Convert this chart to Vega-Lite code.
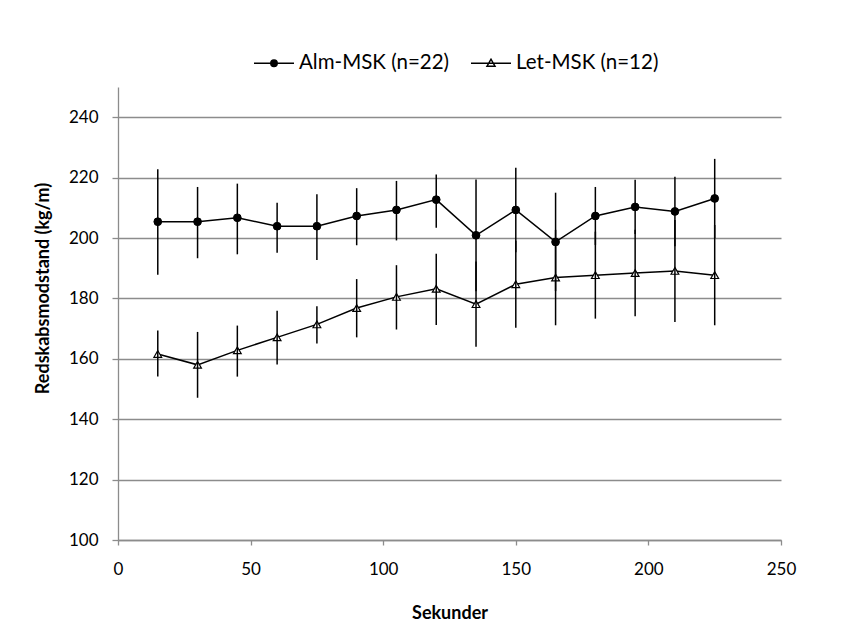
{
  "$schema": "https://vega.github.io/schema/vega-lite/v6.json",
  "width": 663,
  "height": 453,
  "autosize": {"type": "none"},
  "padding": {"left": 118, "top": 87, "right": 65, "bottom": 83},
  "background": "white",
  "config": {
    "font": "Lato",
    "view": {"stroke": null},
    "axis": {
      "domainColor": "#8c8c8c",
      "domainWidth": 1.3,
      "tickColor": "#8c8c8c",
      "tickWidth": 1.3,
      "gridColor": "#8c8c8c",
      "gridWidth": 1.3,
      "labelColor": "#000000",
      "labelFontSize": 17,
      "titleColor": "#000000",
      "titleFontSize": 18,
      "titleFontWeight": "bold"
    }
  },
  "data": {
    "values": [
      {"t": 15, "series": "Alm-MSK (n=22)", "mean": 205.4, "lo": 187.8, "hi": 222.8},
      {"t": 30, "series": "Alm-MSK (n=22)", "mean": 205.4, "lo": 193.3, "hi": 216.9},
      {"t": 45, "series": "Alm-MSK (n=22)", "mean": 206.7, "lo": 194.6, "hi": 218.0},
      {"t": 60, "series": "Alm-MSK (n=22)", "mean": 203.9, "lo": 195.1, "hi": 211.7},
      {"t": 75, "series": "Alm-MSK (n=22)", "mean": 203.9, "lo": 192.7, "hi": 214.5},
      {"t": 90, "series": "Alm-MSK (n=22)", "mean": 207.3, "lo": 197.6, "hi": 216.5},
      {"t": 105, "series": "Alm-MSK (n=22)", "mean": 209.3, "lo": 199.2, "hi": 218.9},
      {"t": 120, "series": "Alm-MSK (n=22)", "mean": 212.7, "lo": 203.4, "hi": 221.0},
      {"t": 135, "series": "Alm-MSK (n=22)", "mean": 200.9, "lo": 182.4, "hi": 219.4},
      {"t": 150, "series": "Alm-MSK (n=22)", "mean": 209.3, "lo": 195.3, "hi": 223.3},
      {"t": 165, "series": "Alm-MSK (n=22)", "mean": 198.7, "lo": 182.4, "hi": 215.0},
      {"t": 180, "series": "Alm-MSK (n=22)", "mean": 207.3, "lo": 197.7, "hi": 216.9},
      {"t": 195, "series": "Alm-MSK (n=22)", "mean": 210.3, "lo": 201.3, "hi": 219.3},
      {"t": 210, "series": "Alm-MSK (n=22)", "mean": 208.8, "lo": 197.3, "hi": 220.3},
      {"t": 225, "series": "Alm-MSK (n=22)", "mean": 213.1, "lo": 200.0, "hi": 226.2},
      {"t": 15, "series": "Let-MSK (n=12)", "mean": 161.6, "lo": 154.1, "hi": 169.4},
      {"t": 30, "series": "Let-MSK (n=12)", "mean": 158.0, "lo": 147.1, "hi": 168.9},
      {"t": 45, "series": "Let-MSK (n=12)", "mean": 162.8, "lo": 154.1, "hi": 171.0},
      {"t": 60, "series": "Let-MSK (n=12)", "mean": 167.1, "lo": 158.1, "hi": 175.9},
      {"t": 75, "series": "Let-MSK (n=12)", "mean": 171.4, "lo": 165.1, "hi": 177.4},
      {"t": 90, "series": "Let-MSK (n=12)", "mean": 176.8, "lo": 167.1, "hi": 186.4},
      {"t": 105, "series": "Let-MSK (n=12)", "mean": 180.5, "lo": 169.7, "hi": 191.0},
      {"t": 120, "series": "Let-MSK (n=12)", "mean": 183.2, "lo": 171.2, "hi": 194.8},
      {"t": 135, "series": "Let-MSK (n=12)", "mean": 178.1, "lo": 164.0, "hi": 192.2},
      {"t": 150, "series": "Let-MSK (n=12)", "mean": 184.7, "lo": 170.3, "hi": 199.1},
      {"t": 165, "series": "Let-MSK (n=12)", "mean": 186.9, "lo": 171.1, "hi": 202.7},
      {"t": 180, "series": "Let-MSK (n=12)", "mean": 187.7, "lo": 173.3, "hi": 202.1},
      {"t": 195, "series": "Let-MSK (n=12)", "mean": 188.4, "lo": 174.1, "hi": 202.7},
      {"t": 210, "series": "Let-MSK (n=12)", "mean": 189.1, "lo": 172.2, "hi": 206.0},
      {"t": 225, "series": "Let-MSK (n=12)", "mean": 187.7, "lo": 171.1, "hi": 204.3}
    ]
  },
  "encoding": {
    "x": {
      "field": "t",
      "type": "quantitative",
      "scale": {"domain": [0, 250], "nice": false},
      "axis": {
        "values": [0, 50, 100, 150, 200, 250],
        "grid": false,
        "tickSize": 5,
        "labelPadding": 16,
        "labelFlush": false,
        "labelOverlap": false,
        "title": "Sekunder",
        "titleX": 331.5,
        "titleY": 78,
        "titleAlign": "center",
        "titleBaseline": "alphabetic"
      }
    }
  },
  "layer": [
    {
      "mark": {"type": "line", "color": "black", "strokeWidth": 1.5},
      "encoding": {
        "y": {
          "field": "mean",
          "type": "quantitative",
          "scale": {"domain": [100, 250], "nice": false, "zero": false},
          "axis": {
            "values": [100, 120, 140, 160, 180, 200, 220, 240],
            "grid": true,
            "tickSize": 6,
            "labelPadding": 14,
            "title": "Redskabsmodstand (kg/m)",
            "titleAngle": -90,
            "titleX": -75,
            "titleY": 201,
            "titleAlign": "center",
            "titleBaseline": "middle"
          }
        },
        "detail": {"field": "series", "type": "nominal"}
      }
    },
    {
      "transform": [{"filter": "datum.series === 'Alm-MSK (n=22)'"}],
      "mark": {"type": "point", "shape": "circle", "filled": true, "fill": "black", "stroke": "black", "strokeWidth": 1, "opacity": 1, "size": 60},
      "encoding": {"y": {"field": "mean", "type": "quantitative"}}
    },
    {
      "transform": [{"filter": "datum.series === 'Let-MSK (n=12)'"}],
      "mark": {"type": "point", "shape": "triangle-up", "filled": true, "fill": "white", "stroke": "black", "strokeWidth": 1.2, "opacity": 1, "size": 60},
      "encoding": {"y": {"field": "mean", "type": "quantitative"}}
    },
    {
      "mark": {"type": "rule", "color": "black", "strokeWidth": 1.5},
      "encoding": {
        "y": {"field": "lo", "type": "quantitative"},
        "y2": {"field": "hi"}
      }
    },
    {
      "mark": {"type": "point", "strokeWidth": 1.5, "opacity": 0, "size": 1},
      "encoding": {
        "y": {"field": "mean", "type": "quantitative"},
        "fill": {
          "field": "series",
          "type": "nominal",
          "scale": {"domain": ["Alm-MSK (n=22)", "Let-MSK (n=12)"], "range": ["black", "white"]}
        },
        "stroke": {
          "field": "series",
          "type": "nominal",
          "scale": {"domain": ["Alm-MSK (n=22)", "Let-MSK (n=12)"], "range": ["black", "black"]}
        },
        "shape": {
          "field": "series",
          "type": "nominal",
          "scale": {
            "domain": ["Alm-MSK (n=22)", "Let-MSK (n=12)"],
            "range": [
              "M-1,0H1M-0.16,0A0.16,0.16,0,1,1,0.16,0A0.16,0.16,0,1,1,-0.16,0Z",
              "M-1,0H1M-0.2,0.15L0.2,0.15L0,-0.2Z"
            ]
          },
          "legend": {
            "title": null,
            "orient": "none",
            "legendX": 135,
            "legendY": -45,
            "direction": "horizontal",
            "padding": 0,
            "symbolSize": 1600,
            "symbolOpacity": 1,
            "symbolStrokeWidth": 1.5,
            "labelFontSize": 20.5,
            "labelColor": "black",
            "labelOffset": 4,
            "columnPadding": 18
          }
        }
      }
    }
  ]
}
